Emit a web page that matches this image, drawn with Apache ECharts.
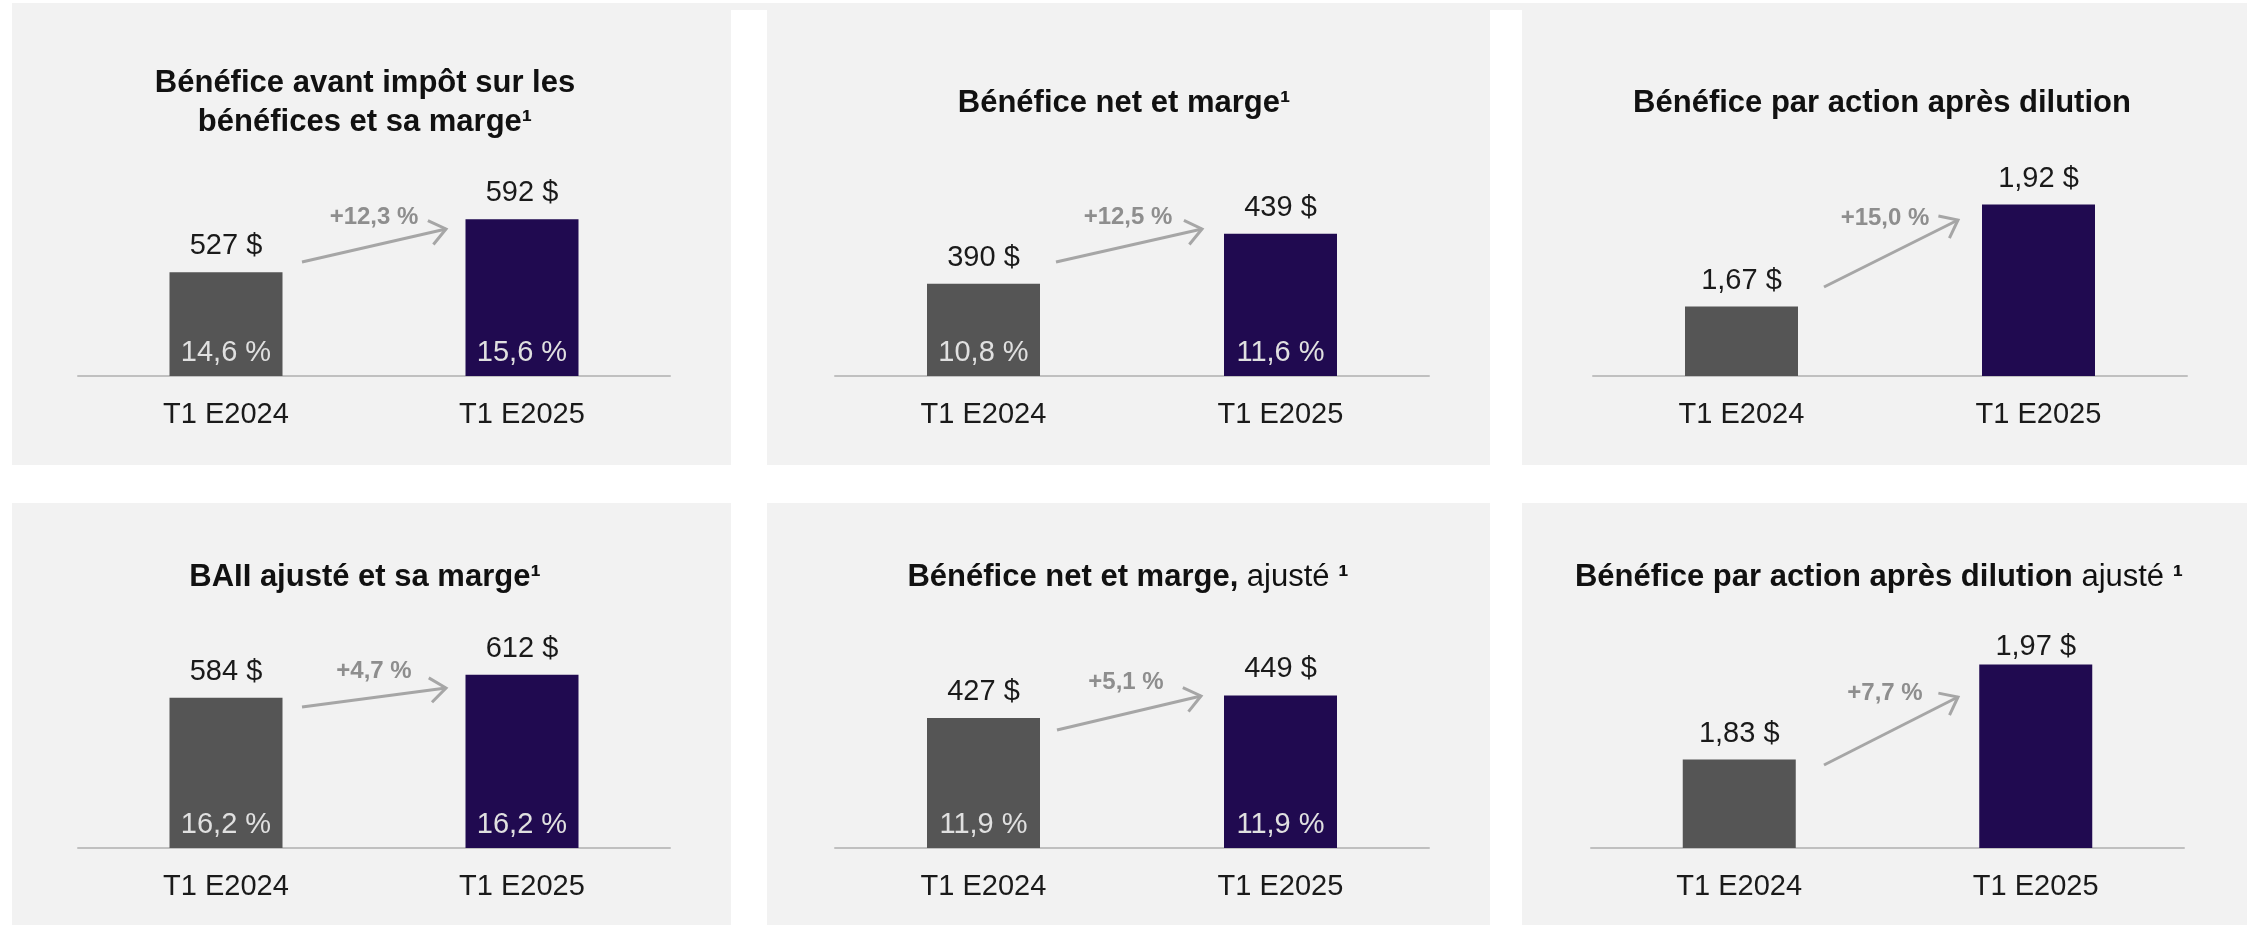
<!DOCTYPE html>
<html>
<head>
<meta charset="utf-8">
<script src="https://cdn.jsdelivr.net/npm/echarts@6/dist/echarts.min.js"></script>
<style>
html,body{margin:0;padding:0;background:#ffffff;}
#chart{width:2255px;height:925px;}
</style>
</head>
<body>
<div id="chart"></div>
<script>
// ---------- DATA ----------
const categories = ['T1 E2024', 'T1 E2025'];

const pretaxValues = [527, 592];
const pretaxMargins = [14.6, 15.6];

const netValues = [390, 439];
const netMargins = [10.8, 11.6];

const epsValues = [1.67, 1.92];

const ebitValues = [584, 612];
const ebitMargins = [16.2, 16.2];

const adjNetValues = [427, 449];
const adjNetMargins = [11.9, 11.9];

const adjEpsValues = [1.83, 1.97];

const changes = ['+12,3 %', '+12,5 %', '+15,0 %', '+4,7 %', '+5,1 %', '+7,7 %'];

const titleTexts = [
  '{b|Bénéfice avant impôt sur les}\n{b|bénéfices et sa marge¹}',
  '{b|Bénéfice net et marge¹}',
  '{b|Bénéfice par action après dilution}',
  '{b|BAII ajusté et sa marge¹}',
  '{b|Bénéfice net et marge,}{r| ajusté}{b| ¹}',
  '{b|Bénéfice par action après dilution}{r| ajusté}{b| ¹}'
];

// ---------- STYLE / LAYOUT ----------
const FONT = '"Liberation Sans", Arial, Helvetica, sans-serif';
const barColors = ['#555555', '#200a50'];
const panelBg = '#f2f2f2';

const layout = [
  {vals: pretaxValues, margins: pretaxMargins, dec: 0, min: 400, max: 700, left: 78,   width: 592, base: 376, h: 245, tx: 365,  ty: 103, arrow: [302, 262, 446, 229],  chg: [374, 217]},
  {vals: netValues,    margins: netMargins,    dec: 0, min: 300, max: 550, left: 835,  width: 594, base: 376, h: 256, tx: 1124, ty: 103, arrow: [1056, 262, 1202, 229], chg: [1128, 217]},
  {vals: epsValues,    margins: null,          dec: 2, min: 1.5, max: 2.1, left: 1593, width: 594, base: 376, h: 245, tx: 1882, ty: 103, arrow: [1824, 287, 1958, 220], chg: [1885, 218]},
  {vals: ebitValues,   margins: ebitMargins,   dec: 0, min: 400, max: 700, left: 78,   width: 592, base: 848, h: 245, tx: 365,  ty: 577, arrow: [302, 707, 446, 688],  chg: [374, 671]},
  {vals: adjNetValues, margins: adjNetMargins, dec: 0, min: 300, max: 550, left: 835,  width: 594, base: 848, h: 256, tx: 1128, ty: 577, arrow: [1057, 730, 1201, 696], chg: [1126, 682]},
  {vals: adjEpsValues, margins: null,          dec: 2, min: 1.7, max: 2.05, left: 1591, width: 593, base: 848, h: 238, tx: 1879, ty: 577, arrow: [1824, 765, 1958, 697], chg: [1885, 693], labelDist: [11, 2]}
];

const panelsRects = [
  [12, 3, 719, 462], [767, 3, 723, 462], [1522, 3, 725, 462],
  [12, 503, 719, 422], [767, 503, 723, 422], [1522, 503, 725, 422]
];

function fmt(v, dec) { return v.toFixed(dec).replace('.', ','); }

const grids = [], xAxes = [], yAxes = [], series = [], graphics = [];

// backgrounds
graphics.push({type: 'rect', z: -10, silent: true, shape: {x: 12, y: 3, width: 2235, height: 7}, style: {fill: panelBg}});
panelsRects.forEach(r => graphics.push({type: 'rect', z: -10, silent: true, shape: {x: r[0], y: r[1], width: r[2], height: r[3]}, style: {fill: panelBg}}));

layout.forEach((p, i) => {
  grids.push({left: p.left, width: p.width, top: p.base - p.h, height: p.h, containLabel: false});
  xAxes.push({
    type: 'category', gridIndex: i, data: categories,
    axisTick: {show: false},
    axisLine: {show: true, lineStyle: {color: '#c0c0c0', width: 2}},
    axisLabel: {color: '#1a1a1a', fontSize: 29, fontFamily: FONT, margin: 24, lineHeight: 30}
  });
  yAxes.push({type: 'value', gridIndex: i, min: p.min, max: p.max, show: false, splitLine: {show: false}});
  series.push({
    type: 'bar', xAxisIndex: i, yAxisIndex: i, barWidth: 113, silent: true,
    data: p.vals.map((v, k) => ({
      value: v,
      itemStyle: {color: barColors[k]},
      label: {distance: p.labelDist ? p.labelDist[k] : 11}
    })),
    label: {
      show: true, position: 'top', distance: 11, color: '#1a1a1a',
      fontSize: 29, fontFamily: FONT, lineHeight: 30,
      formatter: (d) => fmt(d.value, p.dec) + ' $'
    }
  });
  if (p.margins) {
    series.push({
      type: 'bar', xAxisIndex: i, yAxisIndex: i, barWidth: 113, barGap: '-100%', silent: true, z: 3,
      data: p.vals.slice(),
      itemStyle: {color: 'rgba(0,0,0,0)'},
      label: {
        show: true, position: 'insideBottom', distance: 8, color: '#e0e0e0',
        fontSize: 29, fontFamily: FONT, lineHeight: 30,
        formatter: (d) => fmt(p.margins[d.dataIndex], 1) + ' %'
      }
    });
  }
  // title
  graphics.push({
    type: 'text', z: 10, silent: true,
    style: {
      text: titleTexts[i], x: p.tx, y: p.ty, align: 'center', verticalAlign: 'middle',
      fill: '#111111', fontFamily: FONT, fontSize: 31, lineHeight: 39,
      rich: {
        b: {fontFamily: FONT, fontSize: 31, fontWeight: 'bold', fill: '#111111', lineHeight: 39},
        r: {fontFamily: FONT, fontSize: 31, fontWeight: 'normal', fill: '#111111', lineHeight: 39}
      }
    }
  });
  // arrow
  const [x1, y1, x2, y2] = p.arrow;
  const dx = x2 - x1, dy = y2 - y1, len = Math.hypot(dx, dy);
  const ux = -dx / len, uy = -dy / len;
  const th = 38 * Math.PI / 180, L = 20;
  const a1 = [x2 + L * (ux * Math.cos(th) - uy * Math.sin(th)), y2 + L * (ux * Math.sin(th) + uy * Math.cos(th))];
  const a2 = [x2 + L * (ux * Math.cos(-th) - uy * Math.sin(-th)), y2 + L * (ux * Math.sin(-th) + uy * Math.cos(-th))];
  graphics.push({type: 'line', z: 10, silent: true, shape: {x1, y1, x2, y2}, style: {stroke: '#a6a6a6', lineWidth: 3}});
  graphics.push({type: 'polyline', z: 10, silent: true, shape: {points: [a1, [x2, y2], a2]}, style: {stroke: '#a6a6a6', lineWidth: 3, fill: null}});
  // change text
  graphics.push({
    type: 'text', z: 10, silent: true,
    style: {text: changes[i], x: p.chg[0], y: p.chg[1], align: 'center', verticalAlign: 'middle',
      fill: '#8e8e8e', fontFamily: FONT, fontSize: 24, fontWeight: 'bold'}
  });
});

const chart = echarts.init(document.getElementById('chart'), null, {renderer: 'canvas'});
chart.setOption({
  backgroundColor: '#ffffff',
  animation: false,
  grid: grids,
  xAxis: xAxes,
  yAxis: yAxes,
  series: series,
  graphic: graphics
});
</script>
</body>
</html>
